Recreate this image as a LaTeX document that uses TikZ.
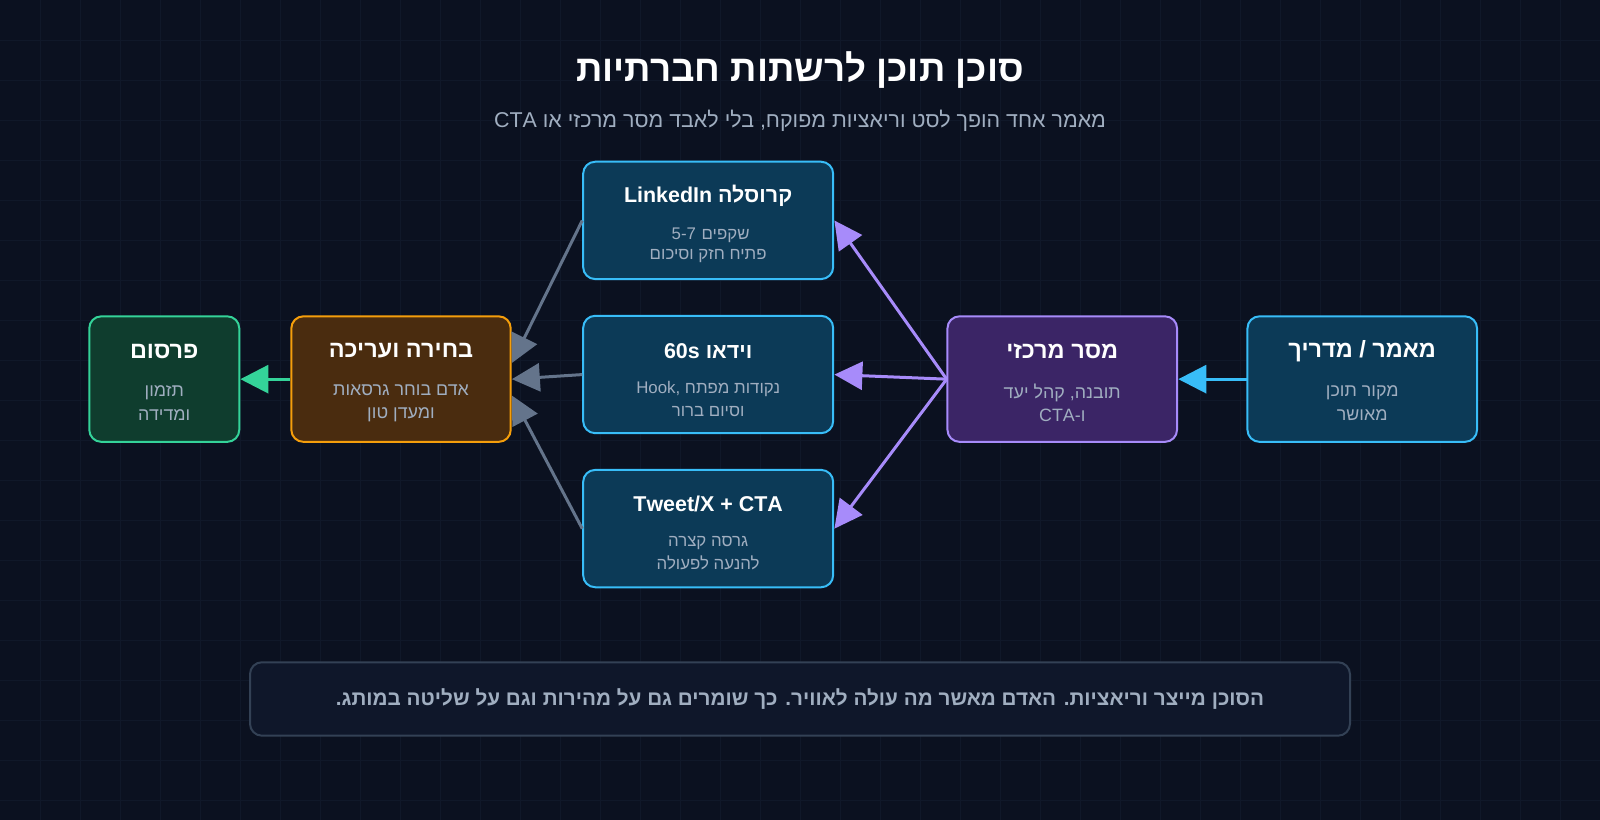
\documentclass[tikz,border=0pt]{standalone}
\usepackage{fontspec}
\setmainfont[Script=Hebrew]{Liberation Sans}
\usetikzlibrary{arrows.meta,calc}
\TeXXeTstate=1
\newcommand\rl[1]{\beginR #1\endR}
\definecolor{bgc}{HTML}{0B1120}
\definecolor{gridc}{HTML}{101829}
\definecolor{subc}{HTML}{A0AEC0}
\definecolor{bluef}{HTML}{0C3A57}\definecolor{blued}{HTML}{38BDF8}
\definecolor{purpf}{HTML}{3B2566}\definecolor{purpd}{HTML}{A78BFA}
\definecolor{orgf}{HTML}{4A2C0F}\definecolor{orgd}{HTML}{F59E0B}
\definecolor{grnf}{HTML}{0F3D2E}\definecolor{grnd}{HTML}{34D399}
\definecolor{notef}{HTML}{0F172A}\definecolor{noted}{HTML}{334155}
\definecolor{edgec}{HTML}{64748B}
\begin{document}
\begin{tikzpicture}
[x=1pt,y=-1pt,scale=1.0204,every node/.append style={transform shape},
 box/.style={draw,line width=2pt,rounded corners=12pt,align=center,text=subc},
 bl/.style={box,fill=bluef,draw=blued,minimum width=245pt,minimum height=115pt},
 ttl/.style={font=\bfseries\fontsize{23}{28}\selectfont,text=white},
 sub/.style={text=subc,font=\fontsize{17.5}{23}\selectfont,align=center},
 sm/.style={text=subc,font=\fontsize{16.5}{22}\selectfont,inner sep=0pt},
 feed/.style={-{Triangle[length=28pt,width=28pt]},line width=3pt}]
\useasboundingbox (0,0) rectangle (1568,803.6);
\fill[bgc] (0,0) rectangle (1568,803.6);
\foreach \g in {1,...,40} \draw[gridc,line width=0.8pt] (\g*39.2,0) -- (\g*39.2,803.6);
\foreach \g in {1,...,20} \draw[gridc,line width=0.8pt] (0,\g*39.2) -- (1568,\g*39.2);
\node[text=white,font=\bfseries\fontsize{36}{42}\selectfont] (title) at (784,69) {\rl{סוכן תוכן לרשתות חברתיות}};
\node[text=subc,font=\fontsize{21}{26}\selectfont] (subt) at (784,118) {CTA \rl{מאמר אחד הופך לסט וריאציות מפוקח, בלי לאבד מסר מרכזי או}};

\node[box,fill=bluef,draw=blued,minimum width=225pt,minimum height=123pt] (src) at (1335,371.5) {};
\node[ttl] at (1335,344) {\rl{מאמר / מדריך}};
\node[sub] at (1335,395) {\rl{מקור תוכן}\\\rl{מאושר}};

\node[box,fill=purpf,draw=purpd,minimum width=225pt,minimum height=123pt] (core) at (1041,371.5) {};
\node[ttl] at (1041,344) {\rl{מסר מרכזי}};
\node[sub] at (1041,395) {\rl{תובנה, קהל יעד}\\CTA-\rl{ו}};

\node[bl] (li) at (694,216) {};
\node[ttl,font=\bfseries\fontsize{21}{26}\selectfont] at (694,192) {LinkedIn \rl{קרוסלה}};
\node[sm,anchor=base west] (n57) at (658,235) {5-7};
\node[sm,anchor=base west] (slides) at ($(n57.base east)+(5,0)$) {\rl{שקפים}};
\node[sm] at (694,251) {\rl{פתיח חזק וסיכום}};

\node[bl] (vid) at (694,367) {};
\node[ttl,font=\bfseries\fontsize{21}{26}\selectfont] at (694,344) {60s \rl{וידאו}};
\node[sub,font=\fontsize{16.5}{22}\selectfont] at (694,391) {Hook, \rl{נקודות מפתח}\\\rl{וסיום ברור}};

\node[bl] (tw) at (694,518) {};
\node[ttl,font=\bfseries\fontsize{21}{26}\selectfont] at (694,494) {Tweet/X + CTA};
\node[sub,font=\fontsize{16.5}{22}\selectfont] at (694,542) {\rl{גרסה קצרה}\\\rl{להנעה לפעולה}};

\node[box,fill=orgf,draw=orgd,minimum width=215pt,minimum height=123pt] (sel) at (393,371.5) {};
\node[ttl] at (393,344) {\rl{בחירה ועריכה}};
\node[sub] at (393,395) {\rl{אדם בוחר גרסאות}\\\rl{ומעדן טון}};

\node[box,fill=grnf,draw=grnd,minimum width=147pt,minimum height=123pt] (pub) at (161,371.5) {};
\node[ttl] at (161,344) {\rl{פרסום}};
\node[sub] at (161,395) {\rl{תזמון}\\\rl{ומדידה}};

\node[box,fill=notef,draw=noted,minimum width=1078pt,minimum height=72pt,font=\bfseries\fontsize{20.3}{24}\selectfont] (note) at (784,685) {\rl{הסוכן מייצר וריאציות. האדם מאשר מה עולה לאוויר. כך שומרים גם על מהירות וגם על שליטה במותג.}};

\draw[feed,blued] (src.west) -- (core.east);
\draw[feed,purpd] (core.west) -- (li.east);
\draw[feed,purpd] (core.west) -- (vid.east);
\draw[feed,purpd] (core.west) -- (tw.east);
\coordinate (s1) at ($(sel.east)+(0,-16)$);
\coordinate (s3) at ($(sel.east)+(0,16)$);
\draw[feed,edgec] (li.west) -- (s1);
\draw[feed,edgec] (vid.west) -- (sel.east);
\draw[feed,edgec] (tw.west) -- (s3);
\draw[feed,grnd] (sel.west) -- (pub.east);
\end{tikzpicture}
\end{document}
